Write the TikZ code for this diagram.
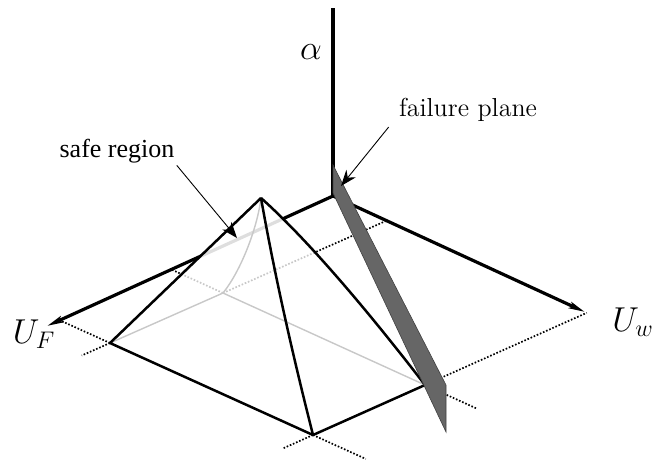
\documentclass[tikz,border=0pt]{standalone}
\usepackage{fontspec}
\newfontfamily\timesfont{Liberation Serif}
\usetikzlibrary{arrows.meta, calc}

\definecolor{planegray}{RGB}{102,102,102}
\definecolor{hiddengray}{RGB}{200,200,200}
\definecolor{axisgray}{RGB}{222,222,222}

\begin{document}
\begin{tikzpicture}[
          x=0.5pt, y=-0.5pt,
          axis/.style={line width=1.6pt},
          axistip/.style={axis, -{Stealth[length=8pt,width=3.2pt,inset=1.5pt]}},
          edge/.style={line width=1.25pt, line join=round},
          hidden/.style={hiddengray, line width=0.7pt},
          gridline/.style={line width=0.85pt, dash pattern=on 0.8pt off 0.9pt},
          note/.style={line width=0.45pt, -{Stealth[length=8pt,width=6pt]}},
          label/.style={inner sep=1pt}
        ]
        \useasboundingbox (0,0) rectangle (653,462);

        % axes
        \coordinate (O) at (333,196);
        \coordinate (Atop) at (333,8);
        \coordinate (F) at (47,326);
        \coordinate (W) at (585,312);

        % safe region: apex and base corners
        \coordinate (P) at (261,198);
        \coordinate (cL) at (110,343);
        \coordinate (cB) at (313,435);
        \coordinate (cR) at (425,385);
        \coordinate (cK) at (223,293);

        % failure plane
        \coordinate (q1) at (333,165);
        \coordinate (q2) at (446,385);
        \coordinate (q3) at (446,432);
        \coordinate (q4) at (333,193);

        % grid lines of the base
        \coordinate (fL) at (intersection of cL--cB and O--F);
        \coordinate (fK) at (intersection of cK--cR and O--F);
        \coordinate (wK) at (intersection of cK--cL and O--W);
        \coordinate (wR) at (intersection of cR--cB and O--W);

        \draw[gridline] (cL) -- ($(cL)!-0.25!(cK)$);
        \draw[gridline] (cB) -- ($(cB)!-0.27!(cR)$);
        \draw[gridline] (cB) -- ($(cB)!-0.26!(cL)$);
        \draw[gridline] (cR) -- ($(cR)!-0.26!(cK)$);
        \draw[gridline] (cL) -- (fL);
        \draw[gridline] (cK) -- (fK);
        \draw[gridline] (cK) -- (wK);
        \draw[gridline] (cR) -- (wR);

        \draw[axistip] (O) -- (F);
        \draw[axistip] (O) -- (W);
        \draw[axis] (O) -- (Atop);

        % pyramid, front faces
        \fill[white] (P) -- (cL) -- (cB) -- (cR) .. controls (385,333) and (316,247) .. (P) -- cycle;

        % hidden lines
        \begin{scope}
          \clip (P) -- (cL) -- (cB) -- (cR) .. controls (385,333) and (316,247) .. (P) -- cycle;
          \draw[axisgray, line width=1.6pt] (O) -- (F);
          \draw[gridline, hiddengray] (cK) -- (fK);
          \draw[gridline, hiddengray] (cK) -- (wK);
          \draw[hidden] (cL) -- (cK) -- (cR);
          \draw[hidden] (P) .. controls (257,230) and (240,272) .. (cK);
        \end{scope}

        \draw[edge] (P) -- (cL) -- (cB) -- (cR);
        \draw[edge] (P) .. controls (275,277) and (293,356) .. (cB);
        \draw[edge] (P) .. controls (316,247) and (385,333) .. (cR);

        \fill[planegray, draw=black!75, line width=0.3pt] (q1) -- (q2) -- (q3) -- (q4) -- cycle;

        % labels
        \node[label] (alab) at (311,52) {\fontsize{16}{18}\selectfont$\alpha$};
        \node[label] (uflab) at (34,334) {\fontsize{18}{20}\selectfont$U_F$};
        \node[label] (uwlab) at (633,322) {\fontsize{18}{20}\selectfont$U_w$};
        \node[label] (safe) at (117,151) {\fontsize{13}{15}\selectfont\timesfont safe region};
        \node[label] (fail) at (468,110) {\fontsize{13}{15}\selectfont failure plane};

        \coordinate (safetip) at (237,238);
        \coordinate (failtip) at (341,186);
        \draw[note] (safe.south east) -- (safetip);
        \draw[note] ([shift={(-8,3)}]fail.south west) -- (failtip);
      \end{tikzpicture}
\end{document}
